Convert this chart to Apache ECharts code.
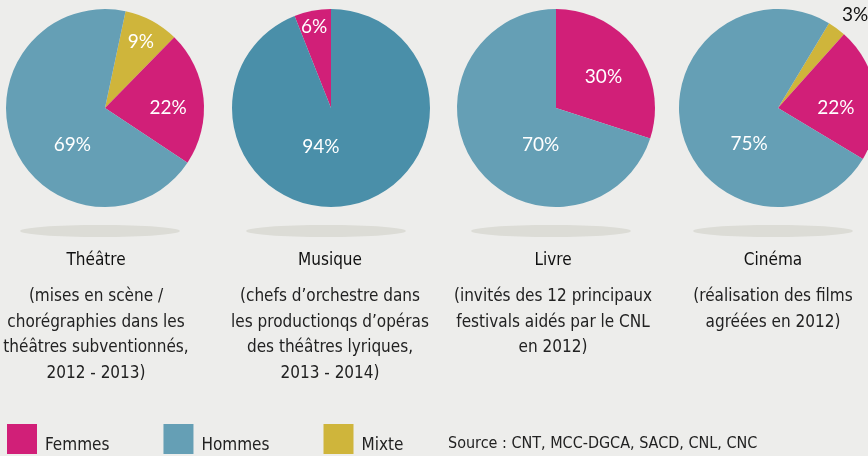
<!DOCTYPE html>
<html>
<head>
<meta charset="utf-8">
<script src="https://cdn.jsdelivr.net/npm/echarts@6/dist/echarts.min.js"></script>
<style>
html, body { margin: 0; padding: 0; background: #ededeb; }
#main { width: 868px; height: 456px; }
</style>
</head>
<body>
<div id="main"></div>
<script>
// données
var domaines = ['Théâtre', 'Musique', 'Livre', 'Cinéma'];
var sousTitres = [
    '(mises en scène /\nchorégraphies dans les\nthéâtres subventionnés,\n2012 - 2013)',
    '(chefs d\u2019orchestre dans\nles productionqs d\u2019opéras\ndes théâtres lyriques,\n2013 - 2014)',
    '(invités des 12 principaux\nfestivals aidés par le CNL\nen 2012)',
    '(réalisation des films\nagréées en 2012)'
];
var categories = ['Mixte', 'Femmes', 'Hommes'];
var mixte  = [9, 0, 0, 3];
var femmes = [22, 6, 30, 22];
var hommes = [69, 94, 70, 75];
var source = 'Source : CNT, MCC-DGCA, SACD, CNL, CNC';

// mise en page
var centresX = [105, 331, 556, 778];
var centreY = 108;
var rayon = 99;
var textesX = [96, 330, 553, 773];
var anglesDepart = [78, 111.6, 90, 59];
var couleurs = { Femmes: '#d11f78', Hommes: '#659fb5', Mixte: '#cfb53b' };
var couleurHommesMusique = '#4a8fa9';
var police = "'Liberation Sans Narrow', 'DejaVu Sans Condensed', 'Liberation Sans', sans-serif";

// petits décalages des étiquettes (dx, dy) par domaine et catégorie
var decalages = [
    { Mixte: [11, -20], Femmes: [11, 5], Hommes: [16, 17] },
    { Femmes: [-7, -30], Hommes: [-20, -13] },
    { Femmes: [5, 0], Hommes: [27, 6] },
    { Mixte: [46, -51], Femmes: [6, 8], Hommes: [22, 23] }
];

var nomsParSerie = [];

function construireSerie(i) {
    var valeurs = { Mixte: mixte[i], Femmes: femmes[i], Hommes: hommes[i] };
    var data = [];
    var noms = [];
    categories.map(function (cat) {
        if (valeurs[cat] > 0) {
            var item = { name: cat, value: valeurs[cat], itemStyle: { color: couleurs[cat] } };
            if (i === 1 && cat === 'Hommes') {
                item.itemStyle.color = couleurHommesMusique;
            }
            if (valeurs[cat] < 5) {
                item.label = { color: '#111' };
            }
            data.push(item);
            noms.push(cat);
        }
    });
    nomsParSerie.push(noms);
    return {
        name: domaines[i],
        type: 'pie',
        center: [centresX[i], centreY],
        radius: [0, rayon],
        startAngle: anglesDepart[i],
        clockwise: true,
        silent: true,
        emphasis: { disabled: true },
        label: {
            show: true,
            position: 'inside',
            formatter: '{c}%',
            color: '#fff',
            fontFamily: "Lato, 'Open Sans', sans-serif",
            fontSize: 19
        },
        labelLine: { show: false },
        labelLayout: function (params) {
            var nom = nomsParSerie[params.seriesIndex][params.dataIndex];
            var d = decalages[params.seriesIndex][nom] || [0, 0];
            return { dx: d[0], dy: d[1] };
        },
        itemStyle: { borderWidth: 0 },
        data: data
    };
}

var series = [];
var titres = [];
var ombres = [];
for (var i = 0; i < domaines.length; i++) {
    series.push(construireSerie(i));
    titres.push({
        text: domaines[i],
        subtext: sousTitres[i],
        left: textesX[i],
        top: 251,
        textAlign: 'center',
        padding: 0,
        itemGap: 13,
        textStyle: { fontFamily: police, fontSize: 17, fontWeight: 'normal', color: '#111', lineHeight: 20 },
        subtextStyle: { fontFamily: police, fontSize: 17, color: '#222', lineHeight: 25.5 }
    });
    ombres.push({
        type: 'ellipse',
        shape: { cx: centresX[i] - 5, cy: 231, rx: 80, ry: 6 },
        style: { fill: '#dcdcd6' },
        z: -1
    });
}
ombres.push({
    type: 'text',
    left: 448,
    top: 436,
    style: { text: source, fontFamily: police, fontSize: 16, fill: '#222' }
});

var myChart = echarts.init(document.getElementById('main'));
var option = {
    backgroundColor: '#ededeb',
    animation: false,
    title: titres,
    legend: {
        data: ['Femmes', 'Hommes', 'Mixte'],
        left: 7,
        top: 424,
        padding: 0,
        itemWidth: 30,
        itemHeight: 30,
        itemGap: 54,
        icon: 'rect',
        selectedMode: false,
        formatter: '{t|{name}}',
        textStyle: {
            rich: {
                t: { fontFamily: police, fontSize: 17, color: '#222', padding: [14, 0, 0, 3] }
            }
        }
    },
    graphic: ombres,
    series: series
};

myChart.setOption(option);
</script>
</body>
</html>
